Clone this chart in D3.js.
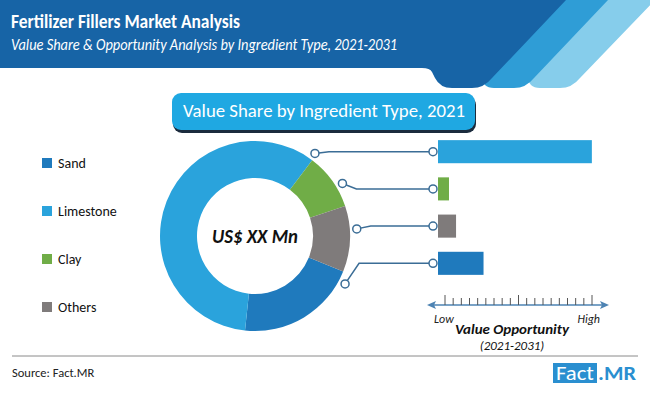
<!DOCTYPE html>
<html>
<head>
<meta charset="utf-8">
<script src="https://cdn.jsdelivr.net/npm/d3@7"></script>
<style>
    body { margin: 0; background: #fff; }
    svg { display: block; }
</style>
</head>
<body>
<svg id="chart"></svg>
<script>
// Ingredient types, in legend order
const categories = ['Sand', 'Limestone', 'Clay', 'Others'];
// Value share 2021 (%)
const shareValues = [20.6, 58.6, 9.6, 11.2];
// Value opportunity 2021-2031, relative (0 = low, 100 = high)
const opportunityValues = [29, 98, 7, 11.5];
// Order of slices round the donut and of bars top to bottom
const pieOrder = ['Clay', 'Others', 'Sand', 'Limestone'];
const barOrder = ['Limestone', 'Clay', 'Others', 'Sand'];
const colours = ['#1f7abd', '#2aa3dc', '#70ad47', '#7f7b7b'];
const axisTicks = d3.range(0, 19);

const width = 650;
const height = 393;
const font = 'Carlito, Lato, "Open Sans", sans-serif';

const data = categories.map((name, i) => ({
    name: name,
    share: shareValues[i],
    opportunity: opportunityValues[i],
    colour: colours[i]
}));
const byName = name => data.find(d => d.name === name);

const svg = d3.select('#chart')
    .attr('width', width)
    .attr('height', height)
    .attr('viewBox', `0 0 ${width} ${height}`)
    .attr('font-family', font);

// Header: three slanted bands with rounded bottoms, dark one on top
const header = svg.append('g');
header.append('path')
    .attr('fill', '#86cdeb')
    .attr('d', 'M590,0 L655,0 L580,78 Q572,88 560,88 L540,88 Q528,88 528,76 Z');
header.append('path')
    .attr('fill', '#2f9dd6')
    .attr('d', 'M545,0 L608,0 L534,78 Q526,88 514,88 L494,88 Q482,88 482,76 Z');
header.append('path')
    .attr('fill', '#1764a6')
    .attr('d', 'M0,0 L566,0 L492,78 Q484,88 472,88 L452,88 Q440,88 435,78 L432,72 Q430,68 422,68 L0,68 Z');

header.append('text')
    .attr('x', 11)
    .attr('y', 28)
    .attr('fill', '#fff')
    .attr('font-size', 20)
    .attr('font-weight', 'bold')
    .attr('textLength', 229)
    .attr('lengthAdjust', 'spacingAndGlyphs')
    .text('Fertilizer Fillers Market Analysis');
header.append('text')
    .attr('x', 11)
    .attr('y', 50)
    .attr('fill', '#fff')
    .attr('font-size', 16)
    .attr('font-style', 'italic')
    .attr('textLength', 386)
    .attr('lengthAdjust', 'spacingAndGlyphs')
    .text('Value Share & Opportunity Analysis by Ingredient Type, 2021-2031');

// Banner above the donut
const banner = svg.append('g');
banner.append('rect')
    .attr('x', 173).attr('y', 96).attr('width', 303).attr('height', 37)
    .attr('rx', 9)
    .attr('fill', '#1b2b3d');
banner.append('rect')
    .attr('x', 172).attr('y', 93).attr('width', 303).attr('height', 37)
    .attr('rx', 9)
    .attr('fill', '#1fa8e2');
banner.append('text')
    .attr('x', 324)
    .attr('y', 117)
    .attr('text-anchor', 'middle')
    .attr('fill', '#fff')
    .attr('font-size', 18.5)
    .attr('textLength', 282)
    .attr('lengthAdjust', 'spacingAndGlyphs')
    .text('Value Share by Ingredient Type, 2021');

// Legend
const legendY = d3.scalePoint().domain(categories).range([163, 307]);
const legend = svg.append('g')
    .selectAll('g')
    .data(data)
    .enter()
    .append('g')
    .attr('transform', d => `translate(42,${legendY(d.name)})`);
legend.append('rect')
    .attr('x', 0).attr('y', -5)
    .attr('width', 10).attr('height', 10)
    .attr('fill', d => d.colour);
legend.append('text')
    .attr('x', 16)
    .attr('y', 5)
    .attr('font-size', 14)
    .attr('fill', '#111')
    .text(d => d.name);

// Donut
const cx = 255;
const cy = 236;
const outerR = 95;
const innerR = 58;
const startAngle = 37 * Math.PI / 180;
const pie = d3.pie()
    .sort((a, b) => pieOrder.indexOf(a.name) - pieOrder.indexOf(b.name))
    .value(d => d.share)
    .startAngle(startAngle)
    .endAngle(startAngle + 2 * Math.PI);
const arc = d3.arc().innerRadius(innerR).outerRadius(outerR);
const donut = svg.append('g').attr('transform', `translate(${cx},${cy})`);
donut.selectAll('path')
    .data(pie(data))
    .enter()
    .append('path')
    .attr('d', arc)
    .attr('fill', d => d.data.colour);
donut.append('text')
    .attr('y', 7)
    .attr('text-anchor', 'middle')
    .attr('font-size', 20)
    .attr('font-weight', 'bold')
    .attr('font-style', 'italic')
    .attr('fill', '#111')
    .attr('textLength', 86)
    .attr('lengthAdjust', 'spacingAndGlyphs')
    .text('US$ XX Mn');

// Bars: value opportunity
const x = d3.scaleLinear().domain([0, 100]).range([438, 595]);
const y = d3.scaleBand().domain(barOrder).range([126, 289]).padding(0.38);
svg.append('g')
    .selectAll('rect')
    .data(barOrder.map(byName))
    .enter()
    .append('rect')
    .attr('x', x(0))
    .attr('y', d => y(d.name))
    .attr('width', d => x(d.opportunity) - x(0))
    .attr('height', y.bandwidth())
    .attr('fill', d => d.colour);

// Leader lines from the donut to the bars
const leaderAngle = { Limestone: 36, Clay: 59, Others: 86, Sand: 118 };
const leaderR = 102;
const lineColour = '#3b6d96';
const leaders = svg.append('g')
    .selectAll('g')
    .data(barOrder.map(byName))
    .enter()
    .append('g');
leaders.each(function (d) {
    const a = leaderAngle[d.name] * Math.PI / 180;
    d.ax = cx + leaderR * Math.sin(a);
    d.ay = cy - leaderR * Math.cos(a);
    d.by = y(d.name) + y.bandwidth() / 2;
});
leaders.append('path')
    .attr('fill', 'none')
    .attr('stroke', lineColour)
    .attr('stroke-width', 1.5)
    .attr('d', d => `M${d.ax},${d.ay} L${d.ax + 14},${d.by} L${x(0) - 5},${d.by}`);
leaders.append('circle')
    .attr('cx', d => d.ax)
    .attr('cy', d => d.ay)
    .attr('r', 4)
    .attr('fill', '#fff')
    .attr('stroke', lineColour)
    .attr('stroke-width', 1.5);
leaders.append('circle')
    .attr('cx', x(0) - 5)
    .attr('cy', d => d.by)
    .attr('r', 4)
    .attr('fill', '#fff')
    .attr('stroke', lineColour)
    .attr('stroke-width', 1.5);

// Low-high opportunity axis with arrows at both ends
const axisY = 305;
const tickX = d3.scaleLinear().domain([0, 18]).range([445, 592]);
const axisG = svg.append('g');
const arrowColour = '#4d83b3';
axisG.append('line')
    .attr('x1', 432).attr('x2', 604)
    .attr('y1', axisY).attr('y2', axisY)
    .attr('stroke', arrowColour)
    .attr('stroke-width', 1.5);
axisG.append('path')
    .attr('fill', arrowColour)
    .attr('d', `M427,${axisY} L436,${axisY - 4} L434,${axisY} L436,${axisY + 4} Z`);
axisG.append('path')
    .attr('fill', arrowColour)
    .attr('d', `M609,${axisY} L600,${axisY - 4} L602,${axisY} L600,${axisY + 4} Z`);
axisG.selectAll('line.tick')
    .data(axisTicks)
    .enter()
    .append('line')
    .attr('class', 'tick')
    .attr('x1', d => tickX(d)).attr('x2', d => tickX(d))
    .attr('y1', d => d % 9 === 0 ? axisY - 10 : axisY - 7)
    .attr('y2', axisY)
    .attr('stroke', '#555')
    .attr('stroke-width', 1);
axisG.append('text')
    .attr('x', 434).attr('y', 323)
    .attr('font-size', 12).attr('font-style', 'italic').attr('fill', '#222')
    .text('Low');
axisG.append('text')
    .attr('x', 600).attr('y', 323)
    .attr('text-anchor', 'end')
    .attr('font-size', 12).attr('font-style', 'italic').attr('fill', '#222')
    .text('High');
axisG.append('text')
    .attr('x', 512).attr('y', 334)
    .attr('text-anchor', 'middle')
    .attr('font-size', 14).attr('font-weight', 'bold').attr('font-style', 'italic').attr('fill', '#111')
    .attr('textLength', 114)
    .attr('lengthAdjust', 'spacingAndGlyphs')
    .text('Value Opportunity');
axisG.append('text')
    .attr('x', 512).attr('y', 350)
    .attr('text-anchor', 'middle')
    .attr('font-size', 13).attr('font-style', 'italic').attr('fill', '#111')
    .text('(2021-2031)');

// Footer: separator, source and logo
svg.append('line')
    .attr('x1', 12).attr('x2', 638)
    .attr('y1', 356).attr('y2', 356)
    .attr('stroke', '#8a8a8a')
    .attr('stroke-width', 1);
svg.append('text')
    .attr('x', 12).attr('y', 377)
    .attr('font-size', 12.5).attr('fill', '#222')
    .text('Source: Fact.MR');
svg.append('rect')
    .attr('x', 553).attr('y', 363).attr('width', 44).attr('height', 20)
    .attr('fill', '#2a8fd0');
svg.append('text')
    .attr('x', 575).attr('y', 380)
    .attr('text-anchor', 'middle')
    .attr('font-size', 20).attr('fill', '#fff')
    .attr('textLength', 38).attr('lengthAdjust', 'spacingAndGlyphs')
    .text('Fact');
svg.append('text')
    .attr('x', 598).attr('y', 380)
    .attr('font-size', 20).attr('font-weight', 'bold').attr('fill', '#2a8fd0')
    .attr('textLength', 38).attr('lengthAdjust', 'spacingAndGlyphs')
    .text('.MR');
</script>
</body>
</html>
